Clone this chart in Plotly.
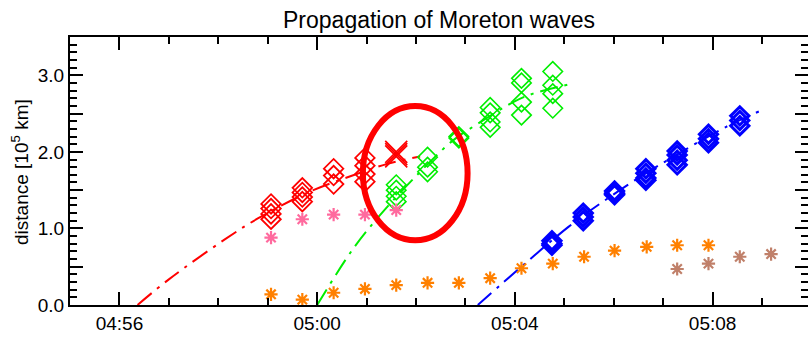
import plotly.graph_objects as go

DAY = "2000-01-01 "

# ---------------- data (time of day, distance in 1e5 km) ----------------
red_times = ["04:59:04", "04:59:04", "04:59:04", "04:59:04",
             "04:59:42", "04:59:42", "04:59:42", "04:59:42",
             "05:00:20", "05:00:20", "05:00:20",
             "05:00:58", "05:00:58", "05:00:58", "05:00:58"]
red_dist = [1.32, 1.26, 1.19, 1.12,
            1.53, 1.47, 1.41, 1.35,
            1.78, 1.69, 1.58,
            1.92, 1.82, 1.71, 1.61]

redx_times = ["05:01:36", "05:01:36", "05:01:36"]
redx_dist = [2.00, 1.97, 1.94]

red_fit_times = ["04:56:22", "04:57:00", "04:58:07", "04:58:48",
                 "04:59:51", "05:00:48", "05:01:24", "05:02:05"]
red_fit_dist = [0.0, 0.335, 0.85, 1.13, 1.48, 1.71, 1.84, 1.94]

green_times = ["05:01:36", "05:01:36", "05:01:36", "05:01:36",
               "05:02:14", "05:02:14", "05:02:14",
               "05:02:52", "05:02:52",
               "05:03:30", "05:03:30", "05:03:30", "05:03:30",
               "05:04:08", "05:04:08", "05:04:08", "05:04:08",
               "05:04:46", "05:04:46", "05:04:46", "05:04:46"]
green_dist = [1.57, 1.50, 1.42, 1.35,
              1.93, 1.80, 1.74,
              2.20, 2.18,
              2.58, 2.51, 2.39, 2.32,
              2.96, 2.90, 2.65, 2.48,
              3.05, 2.87, 2.76, 2.57]

green_fit_times = ["05:00:00", "05:00:44", "05:01:16", "05:01:57",
                   "05:02:45", "05:03:14", "05:03:58", "05:04:22", "05:05:09"]
green_fit_dist = [0.0, 0.74, 1.17, 1.65, 2.15, 2.36, 2.65, 2.76, 2.89]

blue_times = ["05:04:45", "05:04:45", "05:04:45",
              "05:05:23", "05:05:23", "05:05:23",
              "05:06:01", "05:06:01", "05:06:01",
              "05:06:39", "05:06:39", "05:06:39", "05:06:39",
              "05:07:17", "05:07:17", "05:07:17", "05:07:17",
              "05:07:55", "05:07:55", "05:07:55",
              "05:08:33", "05:08:33", "05:08:33"]
blue_dist = [0.84, 0.80, 0.78,
             1.20, 1.15, 1.10,
             1.49, 1.46, 1.44,
             1.78, 1.72, 1.66, 1.63,
             2.01, 1.96, 1.89, 1.83,
             2.23, 2.17, 2.12,
             2.47, 2.41, 2.34]

blue_fit_times = ["05:03:15", "05:04:10", "05:05:05", "05:05:47",
                  "05:06:39", "05:08:17", "05:09:01"]
blue_fit_dist = [0.0, 0.52, 1.02, 1.35, 1.72, 2.33, 2.55]

pink_times = ["04:59:04", "04:59:42", "05:00:20", "05:00:58", "05:01:36"]
pink_dist = [0.88, 1.12, 1.18, 1.18, 1.24]

orange_times = ["04:59:04", "04:59:42", "05:00:20", "05:00:58", "05:01:36",
                "05:02:14", "05:02:52", "05:03:30", "05:04:08", "05:04:46",
                "05:05:24", "05:06:01", "05:06:40", "05:07:17", "05:07:55"]
orange_dist = [0.14, 0.07, 0.16, 0.21, 0.26,
               0.29, 0.29, 0.35, 0.48, 0.54,
               0.63, 0.71, 0.76, 0.78, 0.78]

brown_times = ["05:07:17", "05:07:55", "05:08:33", "05:09:11"]
brown_dist = [0.47, 0.54, 0.63, 0.665]

y_tick_vals = [0, 0.5, 1, 1.5, 2, 2.5, 3]
y_tick_text = ["0.0", "", "1.0", "", "2.0", "", "3.0"]

title_text = "Propagation of Moreton waves"
y_title_text = "distance [10<sup>5</sup> km]"


def ts(lst):
    return [DAY + t for t in lst]


FONT = "Liberation Sans, Arial, sans-serif"
DASH = "18px,7px,3px,7px"

fig = go.Figure()

# fit curves
fig.add_trace(go.Scatter(x=ts(red_fit_times), y=red_fit_dist, mode="lines",
                         line=dict(color="#ff0000", width=2, dash=DASH, shape="spline"),
                         hoverinfo="skip"))
fig.add_trace(go.Scatter(x=ts(green_fit_times), y=green_fit_dist, mode="lines",
                         line=dict(color="#00ee00", width=2, dash=DASH, shape="spline"),
                         hoverinfo="skip"))
fig.add_trace(go.Scatter(x=ts(blue_fit_times), y=blue_fit_dist, mode="lines",
                         line=dict(color="#0000ff", width=2, dash=DASH, shape="spline"),
                         hoverinfo="skip"))

# markers
fig.add_trace(go.Scatter(x=ts(red_times), y=red_dist, mode="markers",
                         marker=dict(symbol="diamond-open", size=15, color="#ff0000",
                                     line=dict(width=1.8, color="#ff0000"))))
fig.add_trace(go.Scatter(x=ts(redx_times), y=redx_dist, mode="markers",
                         marker=dict(symbol="x-thin-open", size=22, color="#ff0000",
                                     line=dict(width=1.7, color="#ff0000"))))
fig.add_trace(go.Scatter(x=ts(green_times), y=green_dist, mode="markers",
                         marker=dict(symbol="diamond-open", size=15, color="#00ee00",
                                     line=dict(width=1.6, color="#00ee00"))))
fig.add_trace(go.Scatter(x=ts(blue_times), y=blue_dist, mode="markers",
                         marker=dict(symbol="diamond-open", size=14, color="#0000ff",
                                     line=dict(width=3, color="#0000ff"))))
fig.add_trace(go.Scatter(x=ts(pink_times), y=pink_dist, mode="markers",
                         marker=dict(symbol="asterisk-open", size=11, color="#ff6a9e",
                                     line=dict(width=2.2, color="#ff6a9e"))))
fig.add_trace(go.Scatter(x=ts(orange_times), y=orange_dist, mode="markers",
                         marker=dict(symbol="asterisk-open", size=11, color="#ff8000",
                                     line=dict(width=2.2, color="#ff8000"))))
fig.add_trace(go.Scatter(x=ts(brown_times), y=brown_dist, mode="markers",
                         marker=dict(symbol="asterisk-open", size=11, color="#c0806a",
                                     line=dict(width=2.2, color="#c0806a"))))
# carrier for right-hand tick axis
fig.add_trace(go.Scatter(x=[], y=[], yaxis="y2", hoverinfo="skip"))

# highlighted region
fig.add_shape(type="circle", xref="x", yref="y",
              x0=DAY + "05:00:55.5", x1=DAY + "05:03:02.6", y0=0.845, y1=2.598,
              line=dict(color="#ff0000", width=6), layer="above")

yaxis_common = dict(range=[0, 3.5], tickmode="array", tickvals=y_tick_vals,
                    ticks="inside", ticklen=13, tickwidth=1.8, tickcolor="#000",
                    minor=dict(tickmode="linear", tick0=0, dtick=0.1, ticks="inside",
                               ticklen=7, tickwidth=1.8, tickcolor="#000", showgrid=False),
                    showgrid=False, zeroline=False, fixedrange=True)

fig.update_layout(
    width=808, height=337,
    margin=dict(l=70, r=0, t=37, b=32),
    paper_bgcolor="white", plot_bgcolor="white",
    showlegend=False,
    font=dict(family=FONT, size=19, color="#000"),
    title=dict(text=title_text, x=(439) / 808, xanchor="center", xref="container",
               y=1 - 20 / 337, yanchor="middle", yref="container",
               font=dict(family=FONT, size=23, color="#000")),
    xaxis=dict(type="date",
               range=[DAY + "04:55:00", DAY + "05:09:55.8"],
               tickmode="linear", tick0=DAY + "04:56:00", dtick=240000,
               tickformat="%H:%M",
               ticks="inside", ticklen=13, tickwidth=1.8, tickcolor="#000",
               minor=dict(tick0=DAY + "04:55:00", dtick=60000, ticks="inside",
                          ticklen=7, tickwidth=1.8, tickcolor="#000", showgrid=False),
               showline=True, linecolor="#000", linewidth=2, mirror="ticks",
               showgrid=False, zeroline=False,
               tickfont=dict(family=FONT, size=19, color="#000")),
    yaxis=dict(ticktext=y_tick_text, showline=True, linecolor="#000", linewidth=2,
               mirror=False, tickfont=dict(family=FONT, size=19, color="#000"),
               **yaxis_common),
    yaxis2=dict(overlaying="y", side="right", showline=False, showticklabels=False,
                **yaxis_common),
    annotations=[
        dict(text=y_title_text, xref="paper", yref="paper",
             x=-(70 - 20) / 738, y=(305 - 172) / 268, xanchor="center", yanchor="middle",
             textangle=-90, showarrow=False,
             font=dict(family=FONT, size=19, color="#000")),
    ],
)

fig.write_html("out.html", config={"displayModeBar": False},
               post_script="document.body.style.margin='0';document.body.style.padding='0';")
